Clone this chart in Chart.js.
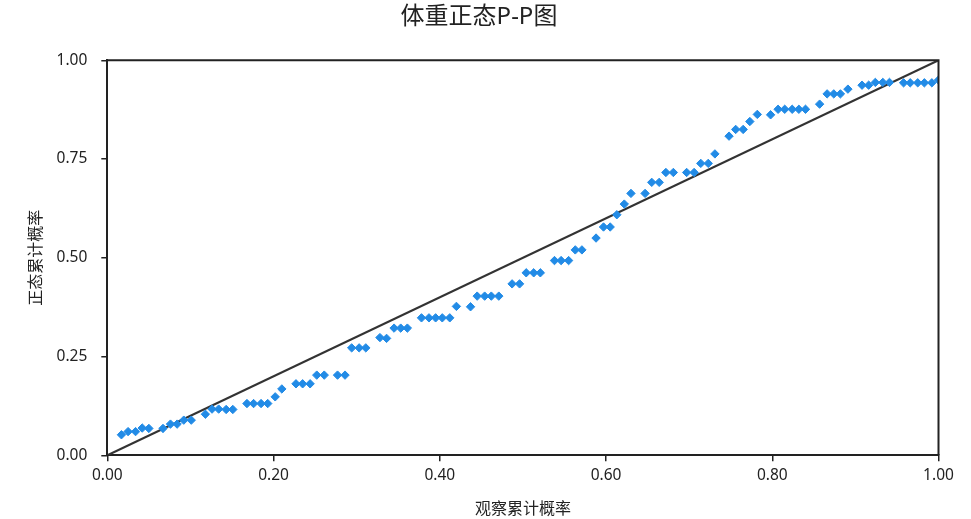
<!DOCTYPE html>
<html>
<head>
<meta charset="utf-8">
<script src="https://cdn.jsdelivr.net/npm/chart.js@4/dist/chart.umd.min.js"></script>
<style>
  html, body { margin: 0; padding: 0; background: #fff; }
  #wrap { width: 971px; height: 519px; }
</style>
</head>
<body>
<div id="wrap"><canvas id="myChart"></canvas></div>
<script>
// 观察累计概率
var observed = [0.017, 0.025, 0.034, 0.042, 0.050, 0.067, 0.076, 0.084, 0.092, 0.101,
  0.118, 0.126, 0.134, 0.143, 0.151, 0.168, 0.176, 0.185, 0.193, 0.202,
  0.210, 0.227, 0.235, 0.244, 0.252, 0.261, 0.277, 0.286, 0.294, 0.303,
  0.311, 0.328, 0.336, 0.345, 0.353, 0.361, 0.378, 0.387, 0.395, 0.403,
  0.412, 0.420, 0.437, 0.445, 0.454, 0.462, 0.471, 0.487, 0.496, 0.504,
  0.513, 0.521, 0.538, 0.546, 0.555, 0.563, 0.571, 0.588, 0.597, 0.605,
  0.613, 0.622, 0.630, 0.647, 0.655, 0.664, 0.672, 0.681, 0.697, 0.706,
  0.714, 0.723, 0.731, 0.748, 0.756, 0.765, 0.773, 0.782, 0.798, 0.807,
  0.815, 0.824, 0.832, 0.840, 0.857, 0.866, 0.874, 0.882, 0.891, 0.908,
  0.916, 0.924, 0.933, 0.941, 0.958, 0.966, 0.975, 0.983, 0.992, 1.000];
// 正态累计概率
var expected = [0.052, 0.060, 0.060, 0.069, 0.068, 0.068, 0.079, 0.079, 0.089, 0.089,
  0.104, 0.117, 0.117, 0.116, 0.116, 0.131, 0.131, 0.131, 0.131, 0.148,
  0.168, 0.181, 0.181, 0.181, 0.203, 0.203, 0.203, 0.203, 0.272, 0.272,
  0.272, 0.298, 0.296, 0.322, 0.322, 0.322, 0.348, 0.348, 0.348, 0.348,
  0.348, 0.377, 0.376, 0.403, 0.403, 0.403, 0.403, 0.434, 0.434, 0.462,
  0.462, 0.462, 0.493, 0.493, 0.493, 0.520, 0.520, 0.550, 0.578, 0.578,
  0.609, 0.636, 0.663, 0.663, 0.691, 0.691, 0.716, 0.716, 0.716, 0.716,
  0.739, 0.739, 0.763, 0.808, 0.825, 0.825, 0.845, 0.863, 0.862, 0.876,
  0.876, 0.876, 0.876, 0.876, 0.889, 0.915, 0.915, 0.915, 0.927, 0.937,
  0.937, 0.944, 0.944, 0.944, 0.943, 0.943, 0.943, 0.943, 0.943, 0.950];
// 参考线
var refLine = [[0, 0], [1, 1]];
var xTicks = [0, 0.2, 0.4, 0.6, 0.8, 1.0];
var yTicks = [0, 0.25, 0.5, 0.75, 1.0];

var fam = '"Noto Sans", "Noto Sans CJK SC", sans-serif';

var puntos = [];
for (var i = 0; i < observed.length; i++) {
  puntos.push({ x: observed[i], y: expected[i] });
}
var linea = refLine.map(function (p) { return { x: p[0], y: p[1] }; });

// top and right frame lines
var marco = {
  id: 'marco',
  afterDatasetsDraw: function (chart) {
    var a = chart.chartArea, c = chart.ctx;
    c.save();
    c.strokeStyle = '#222';
    c.lineWidth = 2;
    c.beginPath();
    c.moveTo(a.left, a.top);
    c.lineTo(a.right, a.top);
    c.lineTo(a.right, a.bottom);
    c.stroke();
    c.restore();
  }
};

var ctx = document.getElementById('myChart').getContext('2d');
var myChart = new Chart(ctx, {
  type: 'scatter',
  data: {
    datasets: [
      {
        label: '正态累计概率',
        data: puntos,
        pointStyle: 'rectRot',
        pointRadius: 4.2,
        pointBorderWidth: 1,
        backgroundColor: '#228be6',
        borderColor: '#228be6',
        order: 1
      },
      {
        type: 'line',
        label: '参考线',
        data: linea,
        borderColor: '#333333',
        borderWidth: 2.2,
        pointRadius: 0,
        fill: false,
        order: 2
      }
    ]
  },
  plugins: [marco],
  options: {
    responsive: true,
    maintainAspectRatio: false,
    animation: false,
    layout: { padding: { left: 0, right: 13, top: 0, bottom: 0 } },
    plugins: {
      legend: { display: false },
      tooltip: { enabled: false },
      title: {
        display: true,
        text: '体重正态P-P图',
        color: '#222',
        font: { family: fam, size: 24, weight: 'normal' },
        padding: { top: 2.6, bottom: 28.9 }
      }
    },
    scales: {
      x: {
        type: 'linear',
        min: 0,
        max: 1,
        afterBuildTicks: function (s) { s.ticks = xTicks.map(function (v) { return { value: v }; }); },
        afterFit: function (s) { s.height = 63.7; },
        ticks: {
          color: '#222',
          padding: 5,
          font: { family: fam, size: 15.5 },
          callback: function (v) { return Number(v).toFixed(2); }
        },
        grid: { drawOnChartArea: false, drawTicks: true, tickLength: 6, color: '#222', lineWidth: 1.5 },
        border: { display: true, color: '#222', width: 2 },
        title: {
          display: true,
          text: '观察累计概率',
          color: '#222',
          font: { family: fam, size: 16 },
          padding: { top: 4, bottom: 0 }
        }
      },
      y: {
        type: 'linear',
        min: 0,
        max: 1,
        afterBuildTicks: function (s) { s.ticks = yTicks.map(function (v) { return { value: v }; }); },
        afterFit: function (s) { s.width = 107.3; },
        ticks: {
          color: '#222',
          padding: 14,
          font: { family: fam, size: 15.5 },
          callback: function (v) { return Number(v).toFixed(2); }
        },
        grid: { drawOnChartArea: false, drawTicks: true, tickLength: 6, color: '#222', lineWidth: 1.5 },
        border: { display: true, color: '#222', width: 2 },
        title: {
          display: true,
          text: '正态累计概率',
          color: '#222',
          font: { family: fam, size: 16 },
          padding: { top: 27, bottom: 0 }
        }
      },
      // empty right margin axis
      yr: {
        type: 'linear',
        position: 'right',
        min: 0,
        max: 1,
        afterFit: function (s) { s.width = 19.5; },
        ticks: { display: false },
        grid: { display: false, drawTicks: false },
        border: { display: false }
      }
    }
  }
});
</script>
</body>
</html>
